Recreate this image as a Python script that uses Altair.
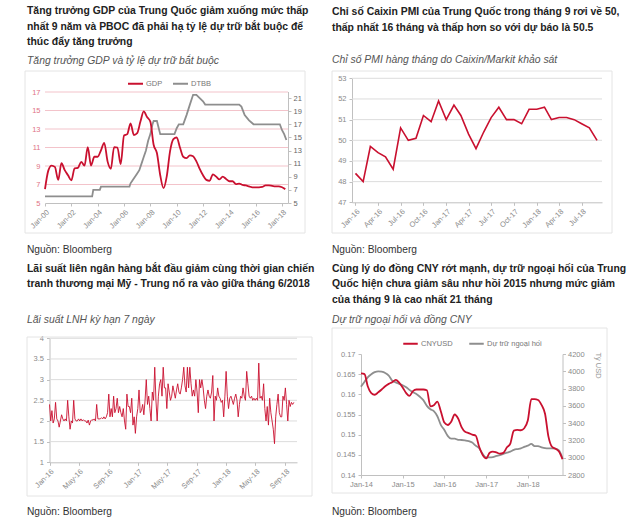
import altair as alt
import pandas as pd

FONT = "Liberation Sans"
RED = "#c9102f"
GRAY = "#8e8e8e"
PINK_GRID = "#f3c3ca"
LIGHT_GRID = "#dcdcdc"
AXIS_LINE = "#c0c0c0"
LABEL = "#8a8a8a"

# ---------------- texts ----------------
p1_title = ["Tăng trưởng GDP của Trung Quốc giảm xuống mức thấp",
            "nhất 9 năm và PBOC đã phải hạ tỷ lệ dự trữ bắt buộc để",
            "thúc đẩy tăng trưởng"]
p1_sub = "Tăng trưởng GDP và tỷ lệ dự trữ bắt buộc"
p2_title = ["Chỉ số Caixin PMI của Trung Quốc trong tháng 9 rơi về 50,",
            "thấp nhất 16 tháng và thấp hơn so với dự báo là 50.5"]
p2_sub = "Chỉ số PMI hàng tháng do Caixin/Markit khảo sát"
p3_title = ["Lãi suất liên ngân hàng bắt đầu giảm cùng thời gian chiến",
            "tranh thương mại Mỹ - Trung nổ ra vào giữa tháng 6/2018"]
p3_sub = "Lãi suất LNH kỳ hạn 7 ngày"
p4_title = ["Cùng lý do đồng CNY rớt mạnh, dự trữ ngoại hối của Trung",
            "Quốc hiện chưa giảm sâu như hồi 2015 nhưng mức giảm",
            "của tháng 9 là cao nhất 21 tháng"]
p4_sub = "Dự trữ ngoại hối và đồng CNY"
source = "Nguồn: Bloomberg"

# ---------------- panel 1 data ----------------
p1_series = ["GDP", "DTBB"]
gdp_values = [6.5, 8.5, 9.05, 8.9, 7.5, 9.3, 8.55, 8.0, 7.45, 8.75, 8.8, 9.45,
              9.05, 11.05, 9.05, 10.0, 10.0, 10.7, 11.5, 9.5, 8.7, 11.05, 11.0, 9.2,
              12.3, 12.45, 13.6, 12.35, 12.55, 13.8, 14.9, 14.3, 13.8, 11.3, 10.4, 8.0,
              6.6, 7.9, 10.6, 11.9, 12.1, 11.0, 10.0, 9.85, 10.15, 10.05, 9.5, 8.7,
              8.0, 7.5, 7.4, 8.1, 7.85, 7.55, 7.85, 7.6, 7.35, 7.35, 7.05, 7.1,
              6.95, 6.9, 6.8, 6.7, 6.7, 6.7, 6.75, 6.9, 6.9, 6.85, 6.8, 6.8,
              6.7, 6.5]
dtbb_dates = ["2000-01", "2003-08", "2003-09", "2004-03", "2004-04", "2006-06", "2006-07",
              "2006-09", "2006-11", "2007-01", "2007-03", "2007-05", "2007-07", "2007-09",
              "2007-11", "2008-01", "2008-03", "2008-04", "2008-07", "2008-10", "2009-11",
              "2010-01", "2010-03", "2010-07", "2010-10", "2011-01", "2011-04", "2011-07",
              "2011-10", "2012-01", "2012-03", "2014-10", "2014-12", "2015-03", "2015-07",
              "2015-11", "2017-11", "2018-01", "2018-03", "2018-05"]
dtbb_values = [6.0, 6.0, 7.0, 7.0, 7.5, 7.5, 8.0,
               8.5, 9.0, 9.5, 10.0, 11.0, 12.0, 13.0,
               14.5, 15.5, 17.0, 17.5, 17.5, 15.5, 15.5,
               16.4, 17.0, 17.0, 18.4, 20.0, 21.5, 21.5,
               21.0, 20.5, 20.0, 20.0, 19.7, 18.4, 17.6,
               17.0, 17.0, 16.1, 15.5, 14.6]
p1_left_ticks = [5, 7, 9, 11, 13, 15, 17]
p1_right_ticks = [5, 7, 9, 11, 13, 15, 17, 19, 21]
p1_grid = [7, 9, 11, 13, 15, 17]
p1_label_years = [2000, 2002, 2004, 2006, 2008, 2010, 2012, 2014, 2016, 2018]

# ---------------- panel 2 data ----------------
pmi_values = [48.4, 48.0, 49.7, 49.4, 49.2, 48.6, 50.6, 50.0, 50.1, 51.2, 50.9, 51.9,
              51.0, 51.7, 51.2, 50.3, 49.6, 50.4, 51.1, 51.6, 51.0, 51.0, 50.8, 51.5,
              51.5, 51.6, 51.0, 51.1, 51.1, 51.0, 50.8, 50.6, 50.0]
p2_ticks = [47, 48, 49, 50, 51, 52, 53]
p2_grid = [48, 49, 50, 51, 52, 53]
p2_label_months = [(2016, 1), (2016, 4), (2016, 7), (2016, 10), (2017, 1), (2017, 4),
                   (2017, 7), (2017, 10), (2018, 1), (2018, 4), (2018, 7)]

# ---------------- panel 3 data (every 5 days) ----------------
lnh_values = [
    2.4, 2.0, 2.25, 1.95, 2.05, 2.45,
    2.05, 2.0, 1.85, 2.0, 2.15, 2.05,
    2.0, 2.05, 2.0, 2.5, 2.1, 1.8,
    2.0, 1.95, 2.5, 2.05, 2.0, 2.0,
    2.05, 2.0, 2.05, 2.0, 2.03, 2.0,
    2.0, 1.95, 2.02, 1.9, 2.0, 2.03,
    2.02, 2.05, 2.0, 2.4, 2.05, 2.05,
    2.05, 2.08, 2.05, 2.1, 2.05, 2.1,
    2.2, 2.65, 2.1, 2.3, 2.1, 2.6,
    2.2, 2.3, 2.55, 2.2, 2.35, 2.2,
    2.1, 2.3, 2.0, 1.8, 2.65, 2.35,
    2.35, 2.2, 2.55, 1.9, 2.1, 1.7,
    2.1, 2.3, 2.75, 2.2, 2.25, 2.4,
    2.15, 2.5, 3.0, 2.4, 2.6, 2.3,
    2.0, 2.7, 2.5, 3.3, 2.5, 2.0,
    2.6, 2.9, 3.0, 2.6, 3.3, 2.8,
    2.8, 2.3, 2.9, 2.7, 2.5, 2.6,
    2.85, 2.7, 2.55, 2.75, 2.9, 2.7,
    2.65, 2.8, 3.0, 3.3, 2.85, 2.7,
    3.3, 2.8, 3.3, 2.9, 2.6, 2.75,
    2.6, 3.0, 2.7, 2.2, 3.0, 2.8,
    3.0, 2.8, 2.5, 2.3, 2.6, 2.75,
    2.6, 2.55, 2.7, 3.1, 2.0, 2.6,
    2.5, 2.8, 2.6, 2.55, 2.45, 2.5,
    2.1, 2.6, 3.2, 2.6, 2.3, 2.55,
    2.6, 2.5, 2.4, 2.55, 2.65, 2.5,
    2.1, 2.4, 2.6, 2.55, 2.8, 2.6,
    2.5, 3.2, 2.9, 2.6, 2.55, 2.6,
    2.5, 2.55, 2.5, 2.55, 2.5, 3.4,
    2.55, 2.6, 2.5, 2.9, 2.3, 2.0,
    2.35, 1.9, 2.55, 2.2, 2.0, 1.8,
    1.45, 2.1, 2.4, 2.65, 2.2, 2.1,
    2.1, 2.6, 2.5, 2.8, 2.4, 2.0,
    2.5, 2.35, 2.45, 2.4, 2.45]
p3_ticks = [1, 1.5, 2, 2.5, 3, 3.5, 4]
p3_grid = [1.5, 2, 2.5, 3, 3.5, 4]
p3_label_months = [(2016, 1), (2016, 5), (2016, 9), (2017, 1), (2017, 5),
                   (2017, 9), (2018, 1), (2018, 5), (2018, 9)]

# ---------------- panel 4 data (monthly from Jan-14) ----------------
p4_series = ["CNYUSD", "Dự trữ ngoại hối"]
cny_values = [0.1652, 0.1650, 0.1620, 0.1603, 0.1599, 0.1605, 0.1612, 0.1620, 0.1626, 0.1630, 0.1636, 0.1629,
              0.1617, 0.1603, 0.1596, 0.1608, 0.1612, 0.1612, 0.1612, 0.1610, 0.1570, 0.1573, 0.1582, 0.1558,
              0.1530, 0.1524, 0.1532, 0.1550, 0.1540, 0.1518, 0.1507, 0.1504, 0.1500, 0.1498, 0.1470, 0.1450,
              0.1441, 0.1455, 0.1458, 0.1456, 0.1453, 0.1455, 0.1468, 0.1478, 0.1510, 0.1512, 0.1511, 0.1516,
              0.1535, 0.1588, 0.1588, 0.1586, 0.1574, 0.1552, 0.1495, 0.1470, 0.1465, 0.1458, 0.1439]
fx_values = [3822, 3880, 3930, 3965, 3990, 4000, 3995, 3980, 3950, 3893, 3872, 3855,
             3838, 3816, 3785, 3758, 3737, 3705, 3666, 3600, 3560, 3540, 3480, 3380,
             3321, 3250, 3220, 3220, 3206, 3205, 3200, 3192, 3175, 3140, 3110, 3045,
             3004, 3004, 3008, 3020, 3031, 3045, 3058, 3070, 3090, 3100, 3108, 3125,
             3140, 3159, 3135, 3135, 3120, 3110, 3108, 3108, 3105, 3085, 2993]
p4_left_ticks = [0.14, 0.145, 0.15, 0.155, 0.16, 0.165, 0.17]
p4_right_ticks = [2800, 3000, 3200, 3400, 3600, 3800, 4000, 4200]
p4_label_years = [2014, 2015, 2016, 2017, 2018]

# ---------------- helpers ----------------
W, H = 640, 522
ONE = pd.DataFrame({"k": [0]})


def dt(y, m, d=1):
    return alt.DateTime(year=y, month=m, date=d)


def xaxis(values, y_pos, angle=315):
    return alt.Axis(orient="bottom", offset=y_pos - H, values=values, format="%b-%y",
                    labelAngle=angle, title=None, grid=False, labelFlush=False,
                    labelOverlap=False, labelFontSize=7.5, labelColor=LABEL, labelFont=FONT,
                    domainColor=AXIS_LINE, tickColor=AXIS_LINE, tickSize=3, labelPadding=2)


def yaxis(orient, x_pos, values, color=LABEL, domain=True, ticks=True, pad=3, fmt="~g", **kw):
    off = -x_pos if orient == "left" else x_pos - W
    return alt.Axis(orient=orient, offset=off, values=values, format=fmt, grid=False,
                    labelFontSize=7.5, labelColor=color, labelFont=FONT, labelOverlap=False,
                    labelFlush=False, domain=domain, ticks=ticks, domainColor=AXIS_LINE,
                    tickColor=AXIS_LINE, tickSize=3, labelPadding=pad, **kw)


def text_block(lines, x, y, size=10.4, weight="normal", style="normal", color="#222", lh=15.5):
    return alt.Chart(ONE).mark_text(
        text=lines, align="left", baseline="alphabetic", font=FONT, fontSize=size,
        fontWeight=weight, fontStyle=style, color=color, lineHeight=lh
    ).encode(x=alt.value(x), y=alt.value(y))


def box(x1, x2, y1, y2):
    return alt.Chart(ONE).mark_rect(fillOpacity=0, stroke="#e4e4e4", strokeWidth=1).encode(
        x=alt.value(x1), x2=alt.value(x2), y=alt.value(y1), y2=alt.value(y2))


def grid_layer(vals, start, end, xs, ys, color):
    df = pd.DataFrame({"y": vals, "a": pd.Timestamp(start), "b": pd.Timestamp(end)})
    return alt.Chart(df).mark_rule(color=color, strokeWidth=1).encode(
        x=alt.X("a:T", scale=xs, axis=None), x2="b:T",
        y=alt.Y("y:Q", scale=ys, axis=None))


# ---------------- panel 1 ----------------
x1 = alt.Scale(domain=[dt(2000, 1, 1), dt(2018, 6, 15)], range=[45, 288], nice=False)
y1L = alt.Scale(domain=[5, 17], range=[203, 92], zero=False, nice=False)
y1R = alt.Scale(domain=[5, 22], range=[203, 91.5], zero=False, nice=False)

gdp_df = pd.DataFrame({"date": pd.date_range("2000-01-01", periods=len(gdp_values), freq="QS"),
                       "v": gdp_values, "s": p1_series[0]})
dtbb_df = pd.DataFrame({"date": pd.to_datetime(dtbb_dates), "v": dtbb_values})

grid1 = grid_layer(p1_grid, "2000-01-01", "2018-06-15", x1, y1L, PINK_GRID)
gdp = alt.Chart(gdp_df).mark_line(strokeWidth=1.8, interpolate="monotone").encode(
    x=alt.X("date:T", scale=x1, axis=xaxis([dt(y, 1) for y in p1_label_years], 203)),
    y=alt.Y("v:Q", scale=y1L, axis=yaxis("left", 45, p1_left_ticks, color="#e07385",
                                         domain=False, ticks=False, pad=5, title=None)),
    color=alt.Color("s:N", scale=alt.Scale(domain=p1_series, range=[RED, GRAY]),
                    legend=alt.Legend(orient="none", legendX=127, legendY=75, direction="horizontal",
                                      title=None, symbolType="stroke", symbolSize=225,
                                      symbolStrokeWidth=2, labelFontSize=7.5, labelColor="#777",
                                      labelFont=FONT, columnPadding=6, labelOffset=2, padding=0)))
dtbb = alt.Chart(dtbb_df).mark_line(strokeWidth=1.8, color=GRAY).encode(
    x=alt.X("date:T", scale=x1, axis=None),
    y=alt.Y("v:Q", scale=y1R, axis=yaxis("right", 288, p1_right_ticks, color="#666",
                                         pad=2, title=None)))

# ---------------- panel 2 ----------------
x2s = alt.Scale(domain=[dt(2015, 12, 18), dt(2018, 9, 21)], range=[352, 602], nice=False)
y2s = alt.Scale(domain=[47, 53], range=[202.3, 78.3], zero=False, nice=False)
pmi_df = pd.DataFrame({"date": pd.date_range("2016-01-01", periods=len(pmi_values), freq="MS"),
                       "v": pmi_values})
grid2 = grid_layer(p2_grid, "2015-12-18", "2018-09-21", x2s, y2s, LIGHT_GRID)
pmi = alt.Chart(pmi_df).mark_line(strokeWidth=1.6, color=RED).encode(
    x=alt.X("date:T", scale=x2s, axis=xaxis([dt(y, m) for y, m in p2_label_months], 202.3)),
    y=alt.Y("v:Q", scale=y2s, axis=yaxis("left", 352, p2_ticks, title=None)))

# ---------------- panel 3 ----------------
x3s = alt.Scale(domain=[dt(2016, 1, 1), dt(2018, 10, 20)], range=[49.5, 297], nice=False)
y3s = alt.Scale(domain=[1, 4], range=[462.3, 338.3], zero=False, nice=False)
lnh_df = pd.DataFrame({"date": pd.date_range("2016-01-01", periods=len(lnh_values), freq="5D"),
                       "v": lnh_values})
grid3 = grid_layer(p3_grid, "2016-01-01", "2018-10-20", x3s, y3s, LIGHT_GRID)
lnh = alt.Chart(lnh_df).mark_line(strokeWidth=0.9, color=RED).encode(
    x=alt.X("date:T", scale=x3s, axis=xaxis([dt(y, m) for y, m in p3_label_months], 462.3)),
    y=alt.Y("v:Q", scale=y3s, axis=yaxis("left", 49.5, p3_ticks, title=None)))

# ---------------- panel 4 ----------------
x4s = alt.Scale(domain=[dt(2014, 1, 1), dt(2018, 11, 1)], range=[361, 562.5], nice=False)
y4L = alt.Scale(domain=[0.14, 0.17], range=[475, 354], zero=False, nice=False)
y4R = alt.Scale(domain=[2800, 4200], range=[475, 354], zero=False, nice=False)
p4_dates = pd.date_range("2014-01-01", periods=len(cny_values), freq="MS")
cny_df = pd.DataFrame({"date": p4_dates, "v": cny_values, "s": p4_series[0]})
fx_df = pd.DataFrame({"date": p4_dates, "v": fx_values})
fx = alt.Chart(fx_df).mark_line(strokeWidth=1.8, color=GRAY, interpolate="monotone").encode(
    x=alt.X("date:T", scale=x4s, axis=None),
    y=alt.Y("v:Q", scale=y4R, axis=yaxis("right", 562.5, p4_right_ticks, pad=2, fmt="d",
                                         title="Tỷ USD", titleAngle=90, titleX=35, titleY=365,
                                         titleFontSize=7.5, titleColor="#999", titleFont=FONT,
                                         titleFontWeight="normal", titleAlign="center",
                                         titleBaseline="middle")))
cny = alt.Chart(cny_df).mark_line(strokeWidth=1.8, interpolate="monotone").encode(
    x=alt.X("date:T", scale=x4s, axis=xaxis([dt(y, 1) for y in p4_label_years], 475, angle=0)),
    y=alt.Y("v:Q", scale=y4L, axis=yaxis("left", 361, p4_left_ticks, title=None)),
    color=alt.Color("s:N", scale=alt.Scale(domain=p4_series, range=[RED, GRAY]),
                    legend=alt.Legend(orient="none", legendX=402, legendY=335, direction="horizontal",
                                      title=None, symbolType="stroke", symbolSize=210,
                                      symbolStrokeWidth=2, labelFontSize=7.5, labelColor="#777",
                                      labelFont=FONT, columnPadding=12, labelOffset=2, padding=0)))

# ---------------- texts ----------------
texts = [
    text_block(p1_title, 27, 14.3, weight="bold"),
    text_block([p1_sub], 27, 64.3, style="italic", color="#555"),
    text_block(p2_title, 332, 15, weight="bold"),
    text_block([p2_sub], 332, 63.3, style="italic", color="#555"),
    text_block([source], 27, 253.3, size=10.2, color="#333"),
    text_block([source], 332, 253.3, size=10.2, color="#333"),
    text_block(p3_title, 27, 271.7, weight="bold"),
    text_block([p3_sub], 27, 322.7, style="italic", color="#555"),
    text_block(p4_title, 332, 271.7, weight="bold"),
    text_block([p4_sub], 332, 322.7, style="italic", color="#555"),
    text_block([source], 27, 515, size=10.2, color="#333"),
    text_block([source], 332, 515, size=10.2, color="#333"),
]

boxes = [box(25, 305, 71, 233), box(332, 612, 71, 233), box(27, 312, 337, 496), box(332, 607, 328, 493)]

chart = alt.layer(
    *boxes, grid1, grid2, grid3, dtbb, gdp, pmi, lnh, fx, cny, *texts
).resolve_scale(
    x="independent", y="independent", color="independent"
).properties(
    width=W, height=H, padding=0, background="white",
    autosize=alt.AutoSizeParams(type="none")
).configure_view(strokeWidth=0)

chart.save("out.html", embed_options={"renderer": "svg", "actions": False})
